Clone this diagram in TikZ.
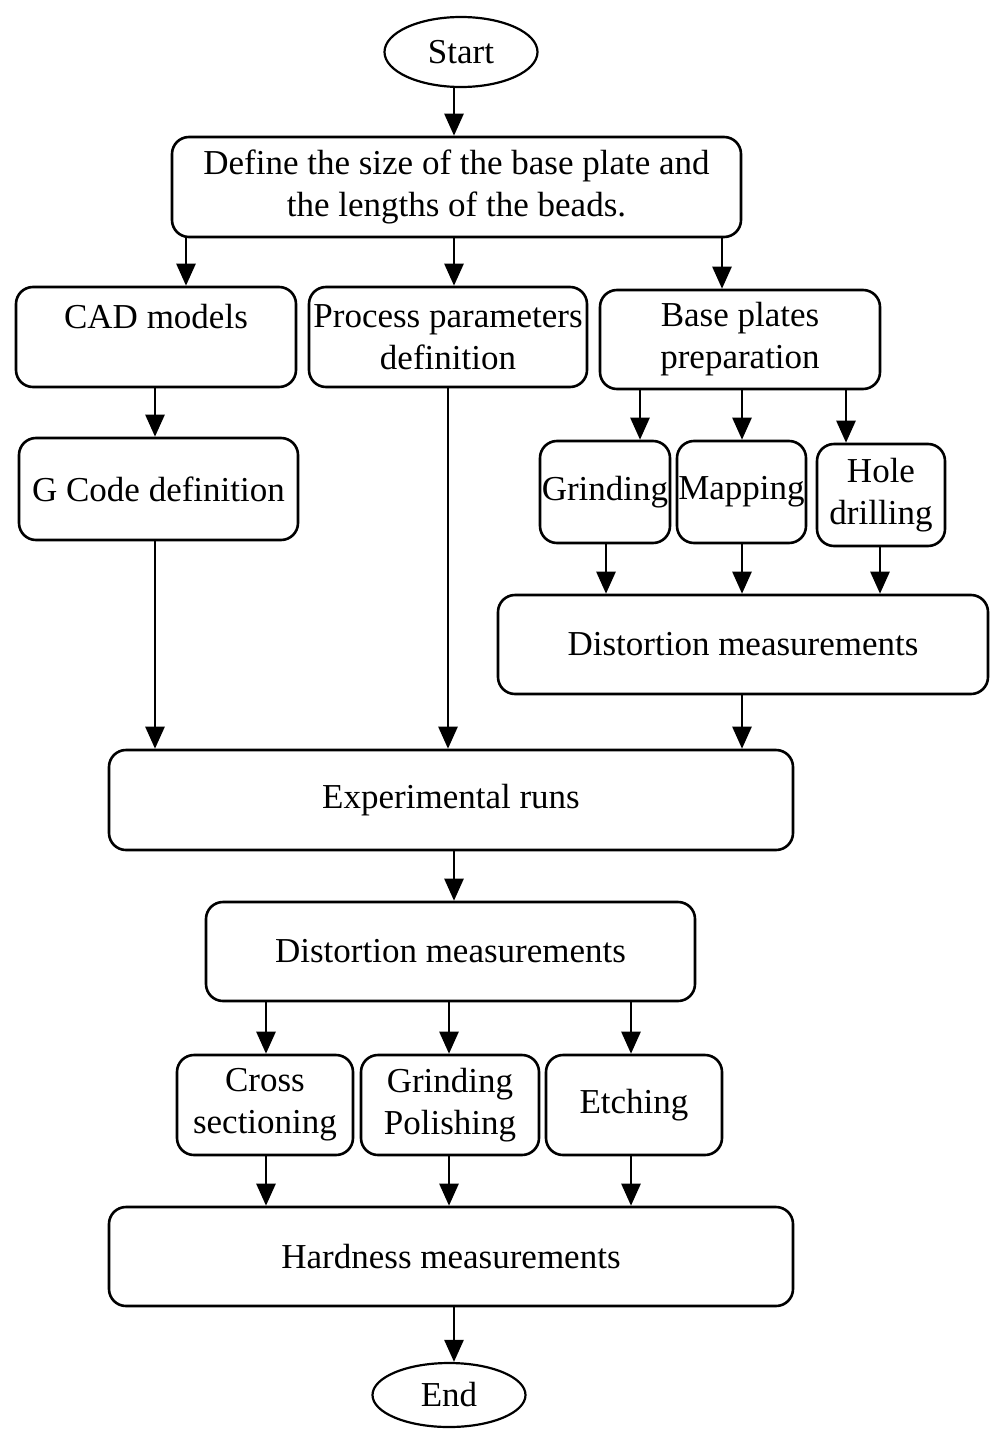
\documentclass[tikz,border=0pt]{standalone}
\usepackage{fontspec}
\setmainfont{Liberation Serif}
\usetikzlibrary{arrows.meta,shapes.geometric}
\begin{document}
\begin{tikzpicture}[x=1pt,y=-1pt,
  box/.style={draw, line width=2.6pt, rounded corners=17pt, inner sep=0pt, align=center,
    font=\fontsize{35}{42}\selectfont},
  oval/.style={draw, ellipse, line width=2.2pt, inner sep=0pt,
    font=\fontsize{35}{42}\selectfont},
  arr/.style={line width=2.6pt, -{Triangle[width=19pt,length=22pt]}}]
\useasboundingbox (0,0) rectangle (990,1429);
\node[oval, minimum width=153pt, minimum height=70pt] (start) at (461,52) {Start};
\node[box, minimum width=569pt, minimum height=100pt] (define) at (456.5,187)
  {Define the size of the base plate and\\the lengths of the beads.};
\node[box, minimum width=280pt, minimum height=100pt] (cad) at (156,337) {CAD models\\\mbox{}};
\node[box, minimum width=278pt, minimum height=100pt] (proc) at (448,337) {Process parameters\\definition};
\node[box, minimum width=280pt, minimum height=99pt] (base) at (740,339.5) {Base plates\\preparation};
\node[box, minimum width=279pt, minimum height=102pt] (gcode) at (158.5,489) {G Code definition};
\node[box, minimum width=130pt, minimum height=102pt] (grind) at (605,492) {Grinding};
\node[box, minimum width=129pt, minimum height=102pt] (map) at (741.5,492) {Mapping};
\node[box, minimum width=128pt, minimum height=102pt] (hole) at (881,495) {Hole\\drilling};
\node[box, minimum width=490pt, minimum height=99pt] (dist1) at (743,644.5) {Distortion measurements};
\node[box, minimum width=684pt, minimum height=100pt] (exp) at (451,800) {Experimental runs};
\node[box, minimum width=489pt, minimum height=99pt] (dist2) at (450.5,951.5) {Distortion measurements};
\node[box, minimum width=176pt, minimum height=100pt] (cross) at (265,1105) {Cross\\sectioning};
\node[box, minimum width=178pt, minimum height=100pt] (gp) at (450,1105) {Grinding\\Polishing};
\node[box, minimum width=176pt, minimum height=100pt] (etch) at (634,1105) {Etching};
\node[box, minimum width=684pt, minimum height=99pt] (hard) at (451,1256.5) {Hardness measurements};
\node[oval, minimum width=153pt, minimum height=64pt] (end) at (449,1395) {End};
% connectors
\draw[arr] (start.south -| 454,0) -- (define.north -| 454,0);
\draw[arr] (define.south -| 186,0) -- (cad.north -| 186,0);
\draw[arr] (define.south -| 454,0) -- (proc.north -| 454,0);
\draw[arr] (define.south -| 722,0) -- (base.north -| 722,0);
\draw[arr] (cad.south -| 155,0) -- (gcode.north -| 155,0);
\draw[arr] (base.south -| 640,0) -- (grind.north -| 640,0);
\draw[arr] (base.south -| 742,0) -- (map.north -| 742,0);
\draw[arr] (base.south -| 846,0) -- (hole.north -| 846,0);
\draw[arr] (grind.south -| 606,0) -- (dist1.north -| 606,0);
\draw[arr] (map.south -| 742,0) -- (dist1.north -| 742,0);
\draw[arr] (hole.south -| 880,0) -- (dist1.north -| 880,0);
\draw[arr] (gcode.south -| 155,0) -- (exp.north -| 155,0);
\draw[arr] (proc.south -| 448,0) -- (exp.north -| 448,0);
\draw[arr] (dist1.south -| 742,0) -- (exp.north -| 742,0);
\draw[arr] (exp.south -| 454,0) -- (dist2.north -| 454,0);
\draw[arr] (dist2.south -| 266,0) -- (cross.north -| 266,0);
\draw[arr] (dist2.south -| 449,0) -- (gp.north -| 449,0);
\draw[arr] (dist2.south -| 631,0) -- (etch.north -| 631,0);
\draw[arr] (cross.south -| 266,0) -- (hard.north -| 266,0);
\draw[arr] (gp.south -| 449,0) -- (hard.north -| 449,0);
\draw[arr] (etch.south -| 631,0) -- (hard.north -| 631,0);
\draw[arr] (hard.south -| 454,0) -- (end.north -| 454,0);
\end{tikzpicture}
\end{document}
